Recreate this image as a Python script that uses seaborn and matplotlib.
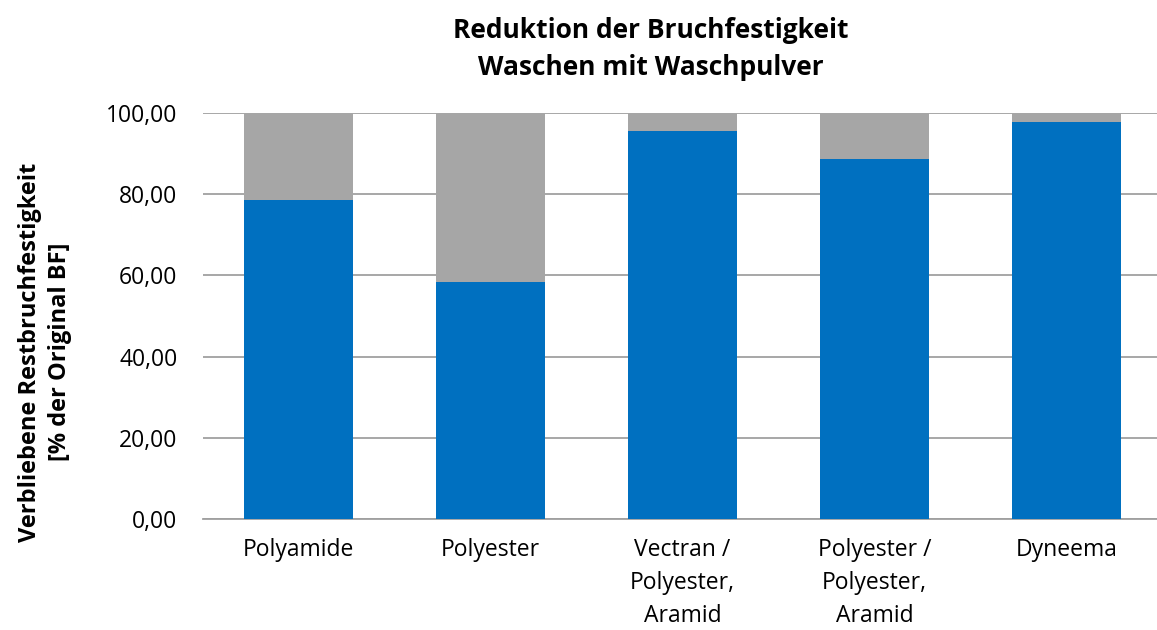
import matplotlib
matplotlib.use("Agg")
import matplotlib.pyplot as plt
import seaborn as sns
import pandas as pd
from matplotlib.ticker import FuncFormatter

categories = ["Polyamide", "Polyester", "Vectran /\nPolyester,\nAramid",
              "Polyester /\nPolyester,\nAramid", "Dyneema"]
remaining = [78.5, 58.4, 95.6, 88.6, 97.7]
reduction = [21.5, 41.6, 4.4, 11.4, 2.3]

sns.set_theme(style="white")
plt.rcParams['font.family'] = ['Open Sans', 'DejaVu Sans']

df = pd.DataFrame({"cat": categories, "rem": remaining,
                   "total": [r + d for r, d in zip(remaining, reduction)]})

fig = plt.figure(figsize=(11.57, 6.30), dpi=100)
ax = fig.add_axes([202.5 / 1157, 1 - 519 / 630, 960 / 1157, 406 / 630])

sns.barplot(data=df, x="cat", y="total", color="#A6A6A6", width=0.568,
            saturation=1, ax=ax, zorder=2, linewidth=0)
sns.barplot(data=df, x="cat", y="rem", color="#0070C0", width=0.568,
            saturation=1, ax=ax, zorder=3, linewidth=0)

ax.set_xlim(-0.5, 4.5)
ax.set_ylim(0, 100)
ax.set_yticks([0, 20, 40, 60, 80, 100])
ax.yaxis.set_major_formatter(FuncFormatter(lambda v, p: f"{v:.2f}".replace(".", ",")))
ax.grid(axis="y", color="#A0A0A0", linewidth=1.3, zorder=0)
ax.set_axisbelow(True)
for s in ["top", "right", "left"]:
    ax.spines[s].set_visible(False)
ax.spines["bottom"].set_color("#A0A0A0")
ax.spines["bottom"].set_linewidth(1.3)
ax.tick_params(axis="both", length=0, labelsize=16.5, colors="#000000")
ax.tick_params(axis="y", pad=18)
ax.tick_params(axis="x", pad=14)
ax.set_xlabel("")
ax.set_ylabel("Verbliebene Restbruchfestigkeit\n[% der Original BF]",
              fontsize=17, fontweight="bold", color="#000000",
              linespacing=1.35)
ax.yaxis.set_label_coords(-0.136, 0.411)
for lbl in ax.get_xticklabels():
    lbl.set_linespacing(1.5)

fig.text(651 / 1157, 1 - 49 / 630, "Reduktion der Bruchfestigkeit\nWaschen mit Waschpulver",
         ha="center", va="center", fontsize=19, fontweight="bold", color="#000000",
         linespacing=1.5)

fig.savefig("out.png", dpi=100)
